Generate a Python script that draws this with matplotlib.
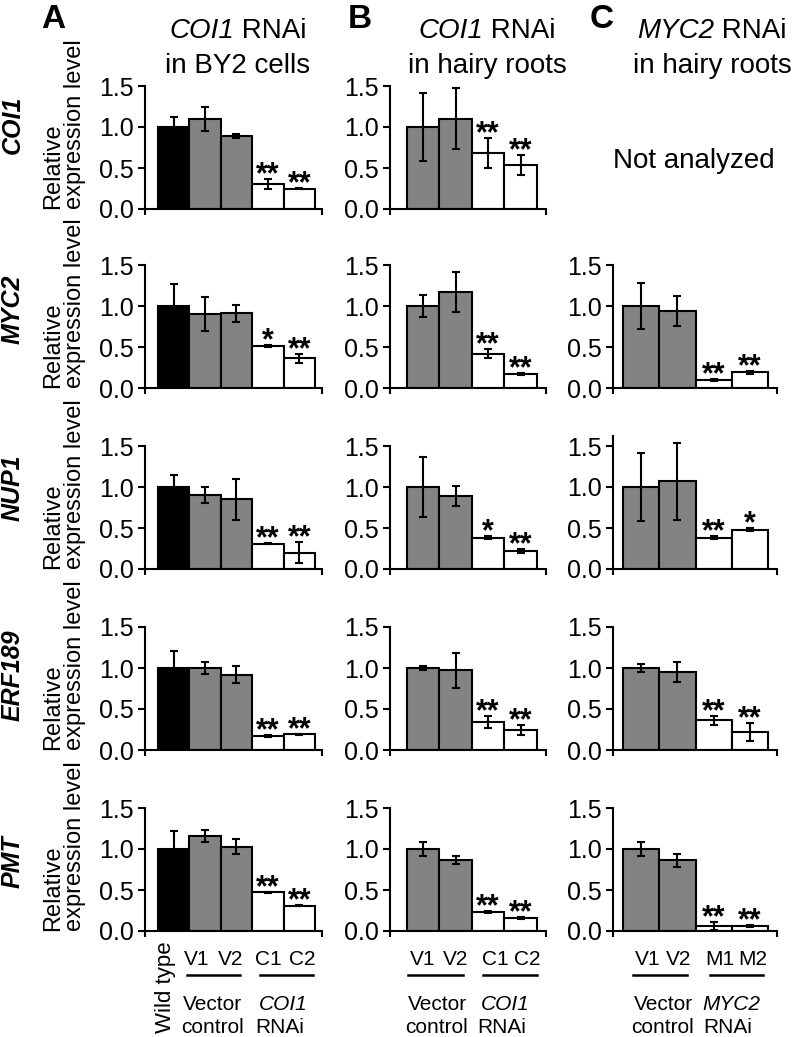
import matplotlib.pyplot as plt
import matplotlib

matplotlib.rcParams["font.family"] = "Liberation Sans"

W, H = 793, 1037
GRAY = "#838383"
LW = 1.5

GENES = ["COI1", "MYC2", "NUP1", "ERF189", "PMT"]

# panel A: COI1 RNAi in BY2 cells (Wild type, V1, V2, C1, C2)
A_LABELS = ["V1", "V2", "C1", "C2"]
A_MEAN = [
    [1.00, 1.10, 0.89, 0.30, 0.25],
    [1.00, 0.90, 0.91, 0.51, 0.36],
    [1.00, 0.90, 0.85, 0.31, 0.20],
    [1.00, 1.00, 0.92, 0.17, 0.19],
    [1.00, 1.16, 1.03, 0.47, 0.31],
]
A_ERR = [
    [0.12, 0.15, 0.02, 0.06, 0.01],
    [0.27, 0.21, 0.10, 0.01, 0.05],
    [0.15, 0.10, 0.25, 0.01, 0.13],
    [0.21, 0.07, 0.10, 0.01, 0.01],
    [0.22, 0.07, 0.09, 0.01, 0.01],
]
A_SIG = [
    ["", "", "", "**", "**"],
    ["", "", "", "*", "**"],
    ["", "", "", "**", "**"],
    ["", "", "", "**", "**"],
    ["", "", "", "**", "**"],
]

# panel B: COI1 RNAi in hairy roots (V1, V2, C1, C2)
B_LABELS = ["V1", "V2", "C1", "C2"]
B_MEAN = [
    [1.00, 1.10, 0.68, 0.54],
    [1.00, 1.17, 0.42, 0.17],
    [1.00, 0.89, 0.38, 0.22],
    [1.00, 0.97, 0.34, 0.24],
    [1.00, 0.87, 0.23, 0.16],
]
B_ERR = [
    [0.42, 0.37, 0.18, 0.12],
    [0.14, 0.24, 0.06, 0.01],
    [0.37, 0.12, 0.02, 0.02],
    [0.02, 0.21, 0.07, 0.06],
    [0.08, 0.05, 0.01, 0.01],
]
B_SIG = [
    ["", "", "**", "**"],
    ["", "", "**", "**"],
    ["", "", "*", "**"],
    ["", "", "**", "**"],
    ["", "", "**", "**"],
]

# panel C: MYC2 RNAi in hairy roots (V1, V2, M1, M2); COI1 not analyzed
C_LABELS = ["V1", "V2", "M1", "M2"]
C_MEAN = [
    None,
    [1.00, 0.94, 0.10, 0.19],
    [1.00, 1.07, 0.38, 0.48],
    [1.00, 0.95, 0.36, 0.22],
    [1.00, 0.86, 0.06, 0.06],
]
C_ERR = [
    None,
    [0.28, 0.18, 0.01, 0.02],
    [0.41, 0.47, 0.02, 0.02],
    [0.05, 0.12, 0.05, 0.11],
    [0.08, 0.08, 0.05, 0.01],
]
C_SIG = [
    None,
    ["", "", "**", "**"],
    ["", "", "**", "*"],
    ["", "", "**", "**"],
    ["", "", "**", "**"],
]

# layout in pixels: axes left/right and x limits per panel
COLS = {
    "A": (145, 322, -0.91, 4.72),
    "B": (390, 546, -1.02, 3.78),
    "C": (613, 777, -0.78, 3.75),
}
ROW_ZERO = [209, 388, 569, 750, 931]
ROW_LABEL_Y = [125, 309, 488, 675, 862]
PX_PER_UNIT = 82

# bottom annotation layout (pixels): label x, group lines, group centres
BOTTOM = {
    "A": ([197, 231, 268, 302], [(187, 240), (260, 313)], [212, 283]),
    "B": ([423, 456, 495, 527], [(408, 463), (483, 537)], [437, 505]),
    "C": ([648, 679, 720, 753], [(633, 687), (710, 763)], [663, 731]),
}
BOTTOM_SIZE = 15

fig = plt.figure(figsize=(W / 100, H / 100), dpi=100)
renderer = fig.canvas.get_renderer()


def fx(px):
    return px / W


def fy(py):
    return 1 - py / H


def mixed_line(cx, py, parts, size):
    # draw pieces with different styles side by side, centred at cx
    texts = [fig.text(0, fy(py), s, fontsize=size, fontstyle=st, ha="left",
                      va="baseline") for s, st in parts]
    widths = [t.get_window_extent(renderer).width for t in texts]
    x = cx - sum(widths) / 2
    for t, w in zip(texts, widths):
        t.set_x(fx(x))
        x += w


def draw_panel(col, row, means, errs, sig, colors):
    x0, x1, xl, xr = COLS[col]
    top = 1.5
    if max(m + e for m, e in zip(means, errs)) > 1.52:
        top = 1.62
    y0 = ROW_ZERO[row]
    ax = fig.add_axes([fx(x0), fy(y0), fx(x1 - x0), top * PX_PER_UNIT / H])
    xs = list(range(len(means)))
    ax.bar(xs, means, width=1.0, color=colors, edgecolor="black", linewidth=LW,
           yerr=errs, error_kw=dict(ecolor="black", elinewidth=LW, capsize=3,
                                    capthick=LW, clip_on=False))
    for x, m, e, s in zip(xs, means, errs, sig):
        if s:
            ax.annotate(s, (x, m + e), xytext=(0, -3), textcoords="offset points",
                        ha="center", va="baseline", fontsize=22, fontweight="bold")
    ax.set_xlim(xl, xr)
    ax.set_ylim(0, top)
    ax.spines["top"].set_visible(False)
    ax.spines["right"].set_visible(False)
    ax.spines["left"].set_linewidth(LW)
    ax.spines["bottom"].set_linewidth(LW)
    ax.set_yticks([0, 0.5, 1.0, 1.5])
    ax.set_yticklabels(["0.0", "0.5", "1.0", "1.5"])
    ax.set_xticks([xl, xr])
    ax.set_xticklabels([])
    ax.tick_params(axis="y", length=5, width=LW, labelsize=18, pad=3)
    ax.tick_params(axis="x", length=4, width=LW)
    ax.patch.set_alpha(0)
    return ax


def draw_bottom(col, labels, gene_name):
    label_x, lines, groups = BOTTOM[col]
    for px, lab in zip(label_x, labels):
        fig.text(fx(px), fy(965), lab, ha="center", va="baseline",
                 fontsize=BOTTOM_SIZE)
    for a, b in lines:
        fig.add_artist(plt.Line2D([fx(a), fx(b)], [fy(975), fy(975)],
                                  color="black", lw=1.8))
    fig.text(fx(groups[0]), fy(1010), "Vector", ha="center", va="baseline",
             fontsize=BOTTOM_SIZE)
    fig.text(fx(groups[0]), fy(1033), "control", ha="center", va="baseline",
             fontsize=BOTTOM_SIZE)
    fig.text(fx(groups[1]), fy(1010), gene_name, ha="center", va="baseline",
             fontsize=BOTTOM_SIZE, fontstyle="italic")
    fig.text(fx(groups[1] - 3), fy(1033), "RNAi", ha="center", va="baseline",
             fontsize=BOTTOM_SIZE)


A_COLORS = ["black", GRAY, GRAY, "white", "white"]
BC_COLORS = [GRAY, GRAY, "white", "white"]

for r in range(5):
    draw_panel("A", r, A_MEAN[r], A_ERR[r], A_SIG[r], A_COLORS)
    draw_panel("B", r, B_MEAN[r], B_ERR[r], B_SIG[r], BC_COLORS)
    if C_MEAN[r] is not None:
        draw_panel("C", r, C_MEAN[r], C_ERR[r], C_SIG[r], BC_COLORS)
    fig.text(fx(64), fy(ROW_ZERO[r]), "Relative\nexpression level", rotation=90,
             ha="center", va="bottom", multialignment="left", fontsize=17,
             linespacing=1.0)
    fig.text(fx(13), fy(ROW_LABEL_Y[r]), GENES[r], rotation=90, ha="center",
             va="center", fontsize=18, fontweight="bold", fontstyle="italic")

# bottom category labels
fig.text(fx(165), fy(941), "Wild type", rotation=90, ha="center", va="top",
         fontsize=16)
draw_bottom("A", A_LABELS, "COI1")
draw_bottom("B", B_LABELS, "COI1")
draw_bottom("C", C_LABELS, "MYC2")

# panel letters and column titles
for letter, px in [("A", 53), ("B", 360), ("C", 602)]:
    fig.text(fx(px), fy(28), letter, ha="center", va="baseline", fontsize=24,
             fontweight="bold")
mixed_line(238, 38, [("COI1", "italic"), (" RNAi", "normal")], 20)
mixed_line(238, 73, [("in BY2 cells", "normal")], 20)
mixed_line(487, 38, [("COI1", "italic"), (" RNAi", "normal")], 20)
mixed_line(487, 73, [("in hairy roots", "normal")], 20)
mixed_line(712, 38, [("MYC2", "italic"), (" RNAi", "normal")], 20)
mixed_line(712, 73, [("in hairy roots", "normal")], 20)

fig.text(fx(694), fy(168), "Not analyzed", ha="center", va="baseline", fontsize=20)

fig.savefig("out.png", dpi=100)
